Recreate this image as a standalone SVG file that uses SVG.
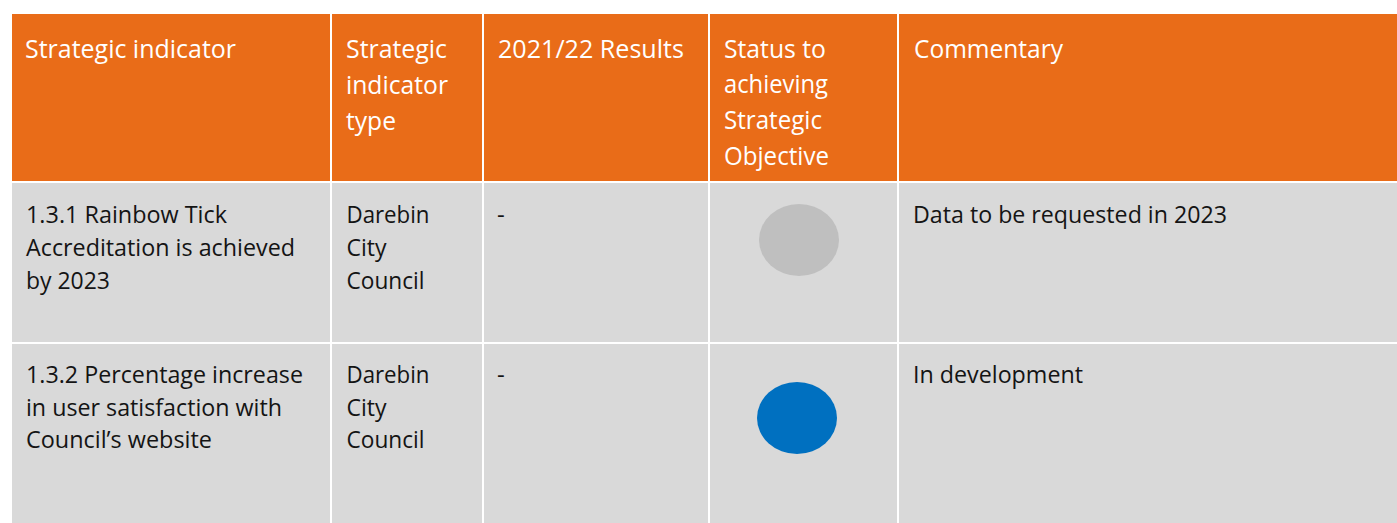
<svg xmlns="http://www.w3.org/2000/svg" width="1397" height="523" viewBox="0 0 1397 523">
<style>
.hd{fill:#E96C18}
.bd{fill:#D9D9D9}
.ht{font-family:"Open Sans","Noto Sans","Liberation Sans",sans-serif;font-size:25.5px;fill:#FFFFFF}
.bt{font-family:"Open Sans","Noto Sans","Liberation Sans",sans-serif;font-size:24px;fill:#141414}
</style>
<rect x="0" y="0" width="1397" height="523" fill="#FFFFFF"/>
<g id="header">
  <g id="h-indicator">
    <rect class="hd" x="12" y="14" width="318" height="167"/>
    <text class="ht" x="25" y="58" textLength="211" lengthAdjust="spacingAndGlyphs">Strategic indicator</text>
  </g>
  <g id="h-type">
    <rect class="hd" x="332" y="14" width="150" height="167"/>
    <text class="ht" x="346" y="58" textLength="101" lengthAdjust="spacingAndGlyphs">Strategic</text>
    <text class="ht" x="346" y="94" textLength="102" lengthAdjust="spacingAndGlyphs">indicator</text>
    <text class="ht" x="346" y="130" textLength="50" lengthAdjust="spacingAndGlyphs">type</text>
  </g>
  <g id="h-results">
    <rect class="hd" x="484" y="14" width="224" height="167"/>
    <text class="ht" x="498" y="58" textLength="186" lengthAdjust="spacingAndGlyphs">2021/22 Results</text>
  </g>
  <g id="h-status">
    <rect class="hd" x="710" y="14" width="187" height="167"/>
    <text class="ht" x="724" y="58" textLength="102" lengthAdjust="spacingAndGlyphs">Status to</text>
    <text class="ht" x="724" y="93" textLength="104" lengthAdjust="spacingAndGlyphs">achieving</text>
    <text class="ht" x="724" y="129" textLength="98" lengthAdjust="spacingAndGlyphs">Strategic</text>
    <text class="ht" x="724" y="165" textLength="105" lengthAdjust="spacingAndGlyphs">Objective</text>
  </g>
  <g id="h-commentary">
    <rect class="hd" x="899" y="14" width="498" height="167"/>
    <text class="ht" x="914" y="58" textLength="149" lengthAdjust="spacingAndGlyphs">Commentary</text>
  </g>
</g>
<g id="row-1-3-1">
  <g id="r1-indicator">
    <rect class="bd" x="12" y="183" width="318" height="159"/>
    <text class="bt" x="26" y="223" textLength="201" lengthAdjust="spacingAndGlyphs">1.3.1 Rainbow Tick</text>
    <text class="bt" x="26" y="256" textLength="269" lengthAdjust="spacingAndGlyphs">Accreditation is achieved</text>
    <text class="bt" x="26" y="289" textLength="84" lengthAdjust="spacingAndGlyphs">by 2023</text>
  </g>
  <g id="r1-type">
    <rect class="bd" x="332" y="183" width="150" height="159"/>
    <text class="bt" x="346.5" y="223" textLength="83" lengthAdjust="spacingAndGlyphs">Darebin</text>
    <text class="bt" x="346.5" y="256" textLength="40" lengthAdjust="spacingAndGlyphs">City</text>
    <text class="bt" x="346.5" y="289" textLength="78" lengthAdjust="spacingAndGlyphs">Council</text>
  </g>
  <g id="r1-results">
    <rect class="bd" x="484" y="183" width="224" height="159"/>
    <text class="bt" x="497" y="223">-</text>
  </g>
  <g id="r1-status">
    <rect class="bd" x="710" y="183" width="187" height="159"/>
    <ellipse cx="799" cy="240" rx="40" ry="36" fill="#BFBFBF"/>
  </g>
  <g id="r1-commentary">
    <rect class="bd" x="899" y="183" width="498" height="159"/>
    <text class="bt" x="913" y="223" textLength="314" lengthAdjust="spacingAndGlyphs">Data to be requested in 2023</text>
  </g>
</g>
<g id="row-1-3-2">
  <g id="r2-indicator">
    <rect class="bd" x="12" y="344" width="318" height="179"/>
    <text class="bt" x="26" y="383" textLength="277" lengthAdjust="spacingAndGlyphs">1.3.2 Percentage increase</text>
    <text class="bt" x="26" y="416" textLength="256" lengthAdjust="spacingAndGlyphs">in user satisfaction with</text>
    <text class="bt" x="26" y="448" textLength="186" lengthAdjust="spacingAndGlyphs">Council’s website</text>
  </g>
  <g id="r2-type">
    <rect class="bd" x="332" y="344" width="150" height="179"/>
    <text class="bt" x="346.5" y="383" textLength="83" lengthAdjust="spacingAndGlyphs">Darebin</text>
    <text class="bt" x="346.5" y="416" textLength="40" lengthAdjust="spacingAndGlyphs">City</text>
    <text class="bt" x="346.5" y="448" textLength="78" lengthAdjust="spacingAndGlyphs">Council</text>
  </g>
  <g id="r2-results">
    <rect class="bd" x="484" y="344" width="224" height="179"/>
    <text class="bt" x="497" y="383">-</text>
  </g>
  <g id="r2-status">
    <rect class="bd" x="710" y="344" width="187" height="179"/>
    <ellipse cx="797" cy="418" rx="40" ry="36" fill="#0070C0"/>
  </g>
  <g id="r2-commentary">
    <rect class="bd" x="899" y="344" width="498" height="179"/>
    <text class="bt" x="913" y="383" textLength="170" lengthAdjust="spacingAndGlyphs">In development</text>
  </g>
</g>
<g id="connectors"/>
</svg>
